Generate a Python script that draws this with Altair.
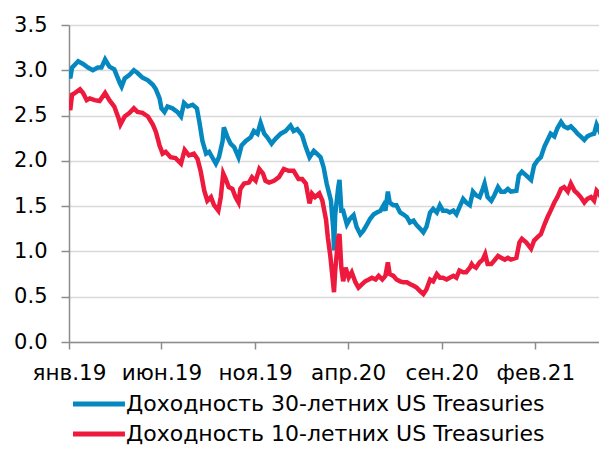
import altair as alt
import pandas as pd

# ---- data ----
dates30 = [
    "2019-01-02", "2019-01-03", "2019-01-06", "2019-01-16", "2019-01-24", "2019-02-01", "2019-02-09", "2019-02-17", "2019-02-23", "2019-03-01", "2019-03-08", "2019-03-16", "2019-03-25", "2019-03-28",
    "2019-04-02", "2019-04-10", "2019-04-17", "2019-04-23", "2019-05-01", "2019-05-10", "2019-05-18", "2019-05-23", "2019-05-29", "2019-06-01", "2019-06-06", "2019-06-11", "2019-06-19", "2019-06-27",
    "2019-07-03", "2019-07-08", "2019-07-14", "2019-07-22", "2019-07-29", "2019-08-02", "2019-08-07", "2019-08-13", "2019-08-18", "2019-08-23", "2019-08-29", "2019-09-03", "2019-09-09", "2019-09-11",
    "2019-09-17", "2019-09-22", "2019-09-28", "2019-10-05", "2019-10-10", "2019-10-17", "2019-10-25", "2019-10-30", "2019-11-05", "2019-11-10", "2019-11-16", "2019-11-21", "2019-11-28", "2019-12-04",
    "2019-12-13", "2019-12-21", "2019-12-29", "2020-01-03", "2020-01-09", "2020-01-17", "2020-01-22", "2020-01-29", "2020-02-05", "2020-02-10", "2020-02-16", "2020-02-21", "2020-02-26",
    "2020-03-04", "2020-03-08", "2020-03-09", "2020-03-11", "2020-03-16", "2020-03-18", "2020-03-21", "2020-03-24", "2020-03-30", "2020-04-04", "2020-04-10", "2020-04-15", "2020-04-21", "2020-04-26",
    "2020-05-02", "2020-05-07", "2020-05-13", "2020-05-18", "2020-05-24", "2020-05-29", "2020-06-01", "2020-06-05", "2020-06-08", "2020-06-14", "2020-06-19", "2020-06-25", "2020-06-30",
    "2020-07-06", "2020-07-11", "2020-07-17", "2020-07-22", "2020-07-28", "2020-08-02", "2020-08-07", "2020-08-13", "2020-08-18", "2020-08-24", "2020-08-29", "2020-09-03", "2020-09-09", "2020-09-14",
    "2020-09-20", "2020-09-25", "2020-09-30", "2020-10-06", "2020-10-11", "2020-10-17", "2020-10-20", "2020-10-22", "2020-10-27", "2020-11-02", "2020-11-07", "2020-11-10", "2020-11-15", "2020-11-21",
    "2020-11-26", "2020-12-02", "2020-12-07", "2020-12-13", "2020-12-18", "2020-12-23", "2021-01-01", "2021-01-05", "2021-01-10", "2021-01-17", "2021-01-25", "2021-01-30",
    "2021-02-05", "2021-02-10", "2021-02-16", "2021-02-21", "2021-02-26", "2021-03-04", "2021-03-09", "2021-03-15", "2021-03-20", "2021-03-26", "2021-03-31",
    "2021-04-06", "2021-04-11", "2021-04-16", "2021-04-22", "2021-04-27", "2021-05-03", "2021-05-08", "2021-05-12", "2021-05-16", "2021-05-22",
]
y30 = [
    2.97, 2.91, 3.03, 3.10, 3.07, 3.03, 3.00, 3.03, 3.03, 3.12, 3.04, 3.01, 2.86, 2.82,
    2.91, 2.95, 3.00, 2.97, 2.92, 2.89, 2.84, 2.79, 2.69, 2.58, 2.54, 2.60, 2.58, 2.54,
    2.49, 2.64, 2.60, 2.62, 2.58, 2.43, 2.22, 2.08, 2.10, 2.04, 1.97, 2.04, 2.22, 2.37,
    2.26, 2.19, 2.15, 2.04, 2.17, 2.22, 2.26, 2.33, 2.30, 2.42, 2.30, 2.26, 2.19, 2.24,
    2.30, 2.33, 2.39, 2.33, 2.35, 2.28, 2.17, 2.04, 2.11, 2.08, 2.04, 1.93, 1.75,
    1.56, 1.23, 1.01, 1.41, 1.71, 1.79, 1.45, 1.45, 1.30, 1.36, 1.40, 1.27, 1.19, 1.23,
    1.30, 1.36, 1.41, 1.43, 1.45, 1.51, 1.45, 1.66, 1.54, 1.51, 1.51, 1.43, 1.41,
    1.38, 1.32, 1.34, 1.29, 1.25, 1.21, 1.27, 1.43, 1.47, 1.43, 1.51, 1.45, 1.45, 1.43,
    1.45, 1.41, 1.49, 1.58, 1.54, 1.51, 1.60, 1.66, 1.62, 1.60, 1.69, 1.75, 1.60, 1.56,
    1.62, 1.71, 1.66, 1.66, 1.69, 1.66, 1.67, 1.84, 1.88, 1.84, 1.79, 1.95,
    2.01, 2.04, 2.16, 2.23, 2.30, 2.27, 2.36, 2.43, 2.38, 2.36, 2.38,
    2.34, 2.30, 2.27, 2.23, 2.27, 2.29, 2.30, 2.40, 2.34, 2.25,
]

dates10 = [
    "2019-01-02", "2019-01-03", "2019-01-06", "2019-01-11", "2019-01-19", "2019-01-24", "2019-01-30", "2019-02-04", "2019-02-12", "2019-02-20", "2019-03-01", "2019-03-08", "2019-03-16", "2019-03-23",
    "2019-03-26", "2019-04-02", "2019-04-10", "2019-04-17", "2019-04-23", "2019-05-01", "2019-05-10", "2019-05-18", "2019-05-23", "2019-05-29", "2019-06-03", "2019-06-08", "2019-06-16", "2019-06-24",
    "2019-07-03", "2019-07-09", "2019-07-16", "2019-07-24", "2019-07-30", "2019-08-04", "2019-08-10", "2019-08-15", "2019-08-21", "2019-08-26", "2019-09-02", "2019-09-06", "2019-09-10", "2019-09-14",
    "2019-09-19", "2019-09-25", "2019-09-30", "2019-10-05", "2019-10-08", "2019-10-14", "2019-10-22", "2019-10-27", "2019-11-02", "2019-11-08", "2019-11-14", "2019-11-18", "2019-11-24",
    "2019-12-02", "2019-12-10", "2019-12-18", "2019-12-26", "2020-01-03", "2020-01-11", "2020-01-17", "2020-01-23", "2020-01-29", "2020-02-02", "2020-02-07", "2020-02-14", "2020-02-19",
    "2020-02-25", "2020-02-28", "2020-03-03", "2020-03-06", "2020-03-09", "2020-03-11", "2020-03-16", "2020-03-18", "2020-03-21", "2020-03-24", "2020-03-28", "2020-04-02", "2020-04-07", "2020-04-13",
    "2020-04-18", "2020-04-24", "2020-04-29", "2020-05-05", "2020-05-10", "2020-05-16", "2020-05-21", "2020-05-27", "2020-06-01", "2020-06-05", "2020-06-08", "2020-06-14", "2020-06-19", "2020-06-25",
    "2020-06-30", "2020-07-06", "2020-07-11", "2020-07-17", "2020-07-22", "2020-07-28", "2020-08-02", "2020-08-07", "2020-08-13", "2020-08-18", "2020-08-24", "2020-08-29", "2020-09-03", "2020-09-09",
    "2020-09-14", "2020-09-20", "2020-09-25", "2020-09-30", "2020-10-06", "2020-10-11", "2020-10-17", "2020-10-20", "2020-10-22", "2020-10-27", "2020-11-02", "2020-11-07", "2020-11-11", "2020-11-15",
    "2020-11-21", "2020-11-26", "2020-12-02", "2020-12-07", "2020-12-13", "2020-12-18", "2020-12-23", "2021-01-01", "2021-01-06", "2021-01-10", "2021-01-17", "2021-01-25", "2021-01-30",
    "2021-02-05", "2021-02-10", "2021-02-16", "2021-02-21", "2021-02-26", "2021-03-04", "2021-03-09", "2021-03-15", "2021-03-20", "2021-03-26", "2021-03-31",
    "2021-04-06", "2021-04-11", "2021-04-16", "2021-04-22", "2021-04-27", "2021-05-03", "2021-05-08", "2021-05-12", "2021-05-16", "2021-05-22",
]
y10 = [
    2.66, 2.56, 2.73, 2.75, 2.79, 2.75, 2.67, 2.69, 2.67, 2.66, 2.75, 2.67, 2.60, 2.47,
    2.40, 2.49, 2.53, 2.58, 2.54, 2.53, 2.49, 2.40, 2.32, 2.17, 2.08, 2.10, 2.04, 2.03,
    1.97, 2.12, 2.06, 2.08, 2.02, 1.89, 1.67, 1.56, 1.60, 1.51, 1.45, 1.60, 1.86, 1.80,
    1.71, 1.69, 1.60, 1.54, 1.69, 1.75, 1.76, 1.82, 1.78, 1.91, 1.86, 1.78, 1.76,
    1.78, 1.82, 1.91, 1.89, 1.89, 1.80, 1.80, 1.75, 1.53, 1.64, 1.60, 1.64, 1.56,
    1.35, 1.15, 0.95, 0.75, 0.55, 0.79, 1.16, 1.19, 0.82, 0.67, 0.82, 0.71, 0.77, 0.66,
    0.60, 0.64, 0.67, 0.69, 0.71, 0.69, 0.73, 0.69, 0.73, 0.88, 0.75, 0.73, 0.69, 0.67,
    0.66, 0.66, 0.64, 0.62, 0.60, 0.56, 0.53, 0.58, 0.69, 0.67, 0.75, 0.71, 0.71, 0.69,
    0.71, 0.73, 0.71, 0.79, 0.77, 0.77, 0.82, 0.86, 0.84, 0.82, 0.88, 0.91, 0.97, 0.86,
    0.86, 0.90, 0.95, 0.93, 0.91, 0.93, 0.91, 0.93, 1.10, 1.14, 1.10, 1.03, 1.12,
    1.16, 1.19, 1.30, 1.38, 1.45, 1.54, 1.60, 1.69, 1.71, 1.66, 1.75,
    1.67, 1.64, 1.60, 1.54, 1.58, 1.60, 1.56, 1.67, 1.64, 1.56,
]

series_names = ["Доходность 30-летних US Treasuries", "Доходность 10-летних US Treasuries"]
series_colors = ["#0587c0", "#ee1a3d"]

tick_dates = ["2019-01-01", "2019-06-01", "2019-11-01", "2020-04-01", "2020-09-01", "2021-02-01"]
tick_labels = ["янв.19", "июн.19", "ноя.19", "апр.20", "сен.20", "фев.21"]
x_domain = ["2019-01-01", "2021-05-16"]
y_ticks = [0.0, 0.5, 1.0, 1.5, 2.0, 2.5, 3.0, 3.5]

# ---- table ----
df = pd.concat([
    pd.DataFrame({"date": dates30, "value": y30, "series": series_names[0]}),
    pd.DataFrame({"date": dates10, "value": y10, "series": series_names[1]}),
], ignore_index=True)


def dt(s):
    y, m, d = (int(p) for p in s.split("-"))
    return alt.DateTime(year=y, month=m, date=d, utc=True)


label_expr = "''"
for d, lab in zip(reversed(tick_dates), reversed(tick_labels)):
    label_expr = f"utcFormat(datum.value, '%Y-%m-%d') == '{d}' ? '{lab}' : ({label_expr})"

FONT = "DejaVu Sans"
AXIS_GRAY = "#8c8c8c"

chart = alt.Chart(df).mark_line(strokeWidth=4.5, clip=True).encode(
    x=alt.X(
        "date:T",
        scale=alt.Scale(type="utc", domain=[dt(x_domain[0]), dt(x_domain[1])]),
        axis=alt.Axis(
            values=[dt(d) for d in tick_dates],
            labelExpr=label_expr,
            title=None,
            grid=False,
            domainColor=AXIS_GRAY,
            domainWidth=1.5,
            tickColor=AXIS_GRAY,
            tickWidth=1.5,
            tickSize=7,
            labelPadding=13,
            labelFont=FONT,
            labelFontSize=21.5,
            labelColor="#000000",
            labelAlign="center",
            labelFlush=False,
            labelOverlap=False,
        ),
    ),
    y=alt.Y(
        "value:Q",
        scale=alt.Scale(domain=[0, 3.5], nice=False),
        axis=alt.Axis(
            values=y_ticks,
            format=".1f",
            title=None,
            grid=True,
            gridColor="#d9d9d9",
            gridWidth=1.5,
            domainColor=AXIS_GRAY,
            domainWidth=1.5,
            tickColor=AXIS_GRAY,
            tickWidth=1.5,
            tickSize=8,
            labelPadding=14,
            labelFont=FONT,
            labelFontSize=21,
            labelColor="#000000",
            labelOverlap=False,
        ),
    ),
    color=alt.Color(
        "series:N",
        scale=alt.Scale(domain=series_names, range=series_colors),
        sort=series_names,
        legend=alt.Legend(
            title=None,
            orient="none",
            legendX=-7,
            legendY=368,
            direction="vertical",
            # a short horizontal stroke drawn to the right of the symbol centre
            symbolType="M0,0H20",
            symbolSize=27,
            symbolStrokeWidth=5,
            symbolFillColor="transparent",
            labelFont=FONT,
            labelFontSize=22,
            labelColor="#000000",
            labelOffset=42,
            rowPadding=8,
            padding=0,
            labelLimit=600,
        ),
    ),
).properties(
    width=530,
    height=317,
    autosize=alt.AutoSizeParams(type="none"),
    padding={"left": 61, "top": 17, "right": 0, "bottom": 105},
).configure_view(stroke=None)

chart.save("out.html", embed_options={"renderer": "svg", "actions": False})
